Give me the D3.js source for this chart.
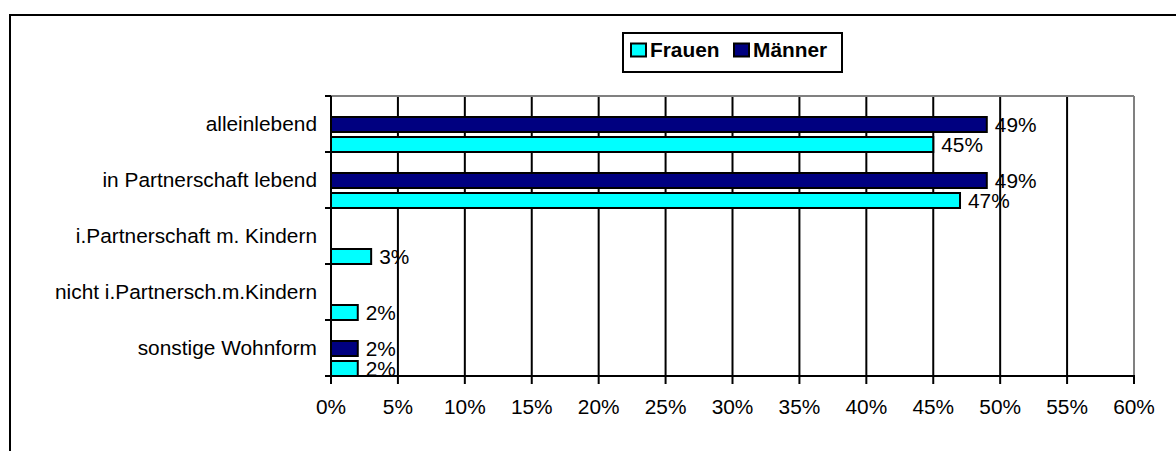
<!DOCTYPE html>
<html><head><meta charset="utf-8">
<script src="https://cdn.jsdelivr.net/npm/d3@7"></script>
<style>
html,body{margin:0;padding:0;background:#fff;}
svg{display:block;}
text{font-family:Arial,"Liberation Sans",sans-serif;fill:#000;}
</style></head>
<body>
<svg id="c" width="1176" height="451"></svg>
<script>
const categories = ["alleinlebend","in Partnerschaft lebend","i.Partnerschaft m. Kindern","nicht i.Partnersch.m.Kindern","sonstige Wohnform"];
const seriesNames = ["Frauen","Männer"];
const frauen = [45,47,3,2,2];
const maenner = [49,49,null,null,2];
const xTicks = [0,5,10,15,20,25,30,35,40,45,50,55,60];

const svg = d3.select("#c");
const FS = 19.5, SX = 1.07;
function txt(g, x, y, s, anchor, bold){
  return g.append("text")
    .attr("transform", `translate(${x},${y}) scale(${SX},1)`)
    .attr("text-anchor", anchor || "start")
    .style("font-size", FS+"px")
    .style("font-weight", bold ? "bold" : "normal")
    .text(s);
}

// outer frame
svg.append("rect").attr("x",10).attr("y",15).attr("width",1300).attr("height",600)
  .attr("fill","none").attr("stroke","#000").attr("stroke-width",2);

const x = d3.scaleLinear().domain([0,60]).range([331,1134]);
const y = d3.scaleBand().domain(categories).range([96,376]);
const inner = d3.scaleBand().domain(["Männer","Frauen"]).range([21,56]).paddingInner(0.25);

const g = svg.append("g");
// gridlines
g.selectAll("line.grid").data(xTicks.filter(t=>t>0 && t<60)).join("line")
  .attr("x1",d=>x(d)).attr("x2",d=>x(d)).attr("y1",96).attr("y2",376)
  .attr("stroke","#000").attr("stroke-width",2);
// plot top/right border gray
g.append("line").attr("x1",331).attr("x2",1134).attr("y1",96).attr("y2",96).attr("stroke","#808080").attr("stroke-width",2);
g.append("line").attr("x1",1134).attr("x2",1134).attr("y1",96).attr("y2",376).attr("stroke","#808080").attr("stroke-width",2);

// bars
const rows = [];
categories.forEach((c,i)=>{
  if (maenner[i] != null) rows.push({c, s:"Männer", v:maenner[i], fill:"#000080"});
  if (frauen[i] != null) rows.push({c, s:"Frauen", v:frauen[i], fill:"#00FFFF"});
});
g.selectAll("rect.bar").data(rows).join("rect")
  .attr("x",x(0)).attr("y",d=>y(d.c)+inner(d.s))
  .attr("width",d=>x(d.v)-x(0)).attr("height",inner.bandwidth())
  .attr("fill",d=>d.fill).attr("stroke","#000").attr("stroke-width",2);

// axes lines
g.append("line").attr("x1",331).attr("x2",331).attr("y1",96).attr("y2",377).attr("stroke","#000").attr("stroke-width",2);
g.append("line").attr("x1",325).attr("x2",1135).attr("y1",376).attr("y2",376).attr("stroke","#000").attr("stroke-width",2);
// x ticks
g.selectAll("line.xt").data(xTicks).join("line")
  .attr("x1",d=>x(d)).attr("x2",d=>x(d)).attr("y1",376).attr("y2",384)
  .attr("stroke","#000").attr("stroke-width",2);
xTicks.forEach(t=>txt(g, x(t), 414, t+"%", "middle"));
// y ticks at band boundaries
const bounds = categories.map(c=>y(c)).concat([y.range()[1]]);
g.selectAll("line.yt").data(bounds).join("line")
  .attr("x1",325).attr("x2",331).attr("y1",d=>d).attr("y2",d=>d)
  .attr("stroke","#000").attr("stroke-width",2);
// category labels
categories.forEach(c=>txt(g, 317, y(c)+y.bandwidth()/2+7, c, "end"));
// value labels
rows.forEach(d=>{
  const cy = y(d.c)+inner(d.s)+inner.bandwidth()/2;
  txt(g, x(d.v)+8, cy+7, d.v+"%", "start");
});

// legend
const lg = svg.append("g");
lg.append("rect").attr("x",623).attr("y",33).attr("width",219).attr("height",39)
  .attr("fill","#fff").attr("stroke","#000").attr("stroke-width",2);
const legItems = [{n:seriesNames[0], fill:"#00FFFF", sx:631, tx:650},{n:seriesNames[1], fill:"#000080", sx:734, tx:753}];
legItems.forEach(it=>{
  lg.append("rect").attr("x",it.sx).attr("y",43.5).attr("width",15).attr("height",13)
    .attr("fill",it.fill).attr("stroke","#000").attr("stroke-width",2);
  txt(lg, it.tx, 57, it.n, "start", true);
});
</script>
</body></html>
